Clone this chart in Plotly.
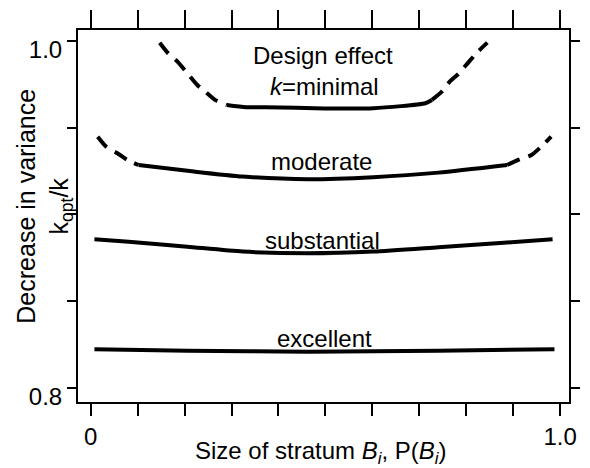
import plotly.graph_objects as go

# ---------------- data ----------------
# Design effect k = minimal (dashed outside the solid middle part)
minimal_left_x = [0.147, 0.165, 0.185, 0.206, 0.227, 0.244, 0.265, 0.290]
minimal_left_y = [0.999, 0.9929, 0.9881, 0.9814, 0.9746, 0.9708, 0.9660, 0.9631]
minimal_mid_x = [0.290, 0.331, 0.373, 0.498, 0.602, 0.713, 0.727]
minimal_mid_y = [0.9631, 0.9618, 0.9618, 0.9611, 0.9612, 0.9641, 0.9660]
minimal_right_x = [0.727, 0.748, 0.765, 0.785, 0.806, 0.825, 0.845]
minimal_right_y = [0.9660, 0.9708, 0.9765, 0.9814, 0.9881, 0.9938, 0.999]

# moderate
moderate_left_x = [0.015, 0.033, 0.057, 0.078, 0.102]
moderate_left_y = [0.9448, 0.9391, 0.9353, 0.9314, 0.9285]
moderate_mid_x = [0.102, 0.220, 0.324, 0.463, 0.602, 0.741, 0.887]
moderate_mid_y = [0.9285, 0.9247, 0.9218, 0.9203, 0.9215, 0.9241, 0.9285]
moderate_right_x = [0.887, 0.911, 0.939, 0.960, 0.981]
moderate_right_y = [0.9285, 0.9314, 0.9343, 0.9391, 0.9448]

# substantial
substantial_x = [0.008, 0.081, 0.206, 0.324, 0.463, 0.602, 0.741, 0.880, 0.984]
substantial_y = [0.8857, 0.8843, 0.8814, 0.8786, 0.8776, 0.8786, 0.8811, 0.8837, 0.8857]

# excellent
excellent_x = [0.008, 0.206, 0.463, 0.741, 0.988]
excellent_y = [0.8223, 0.8215, 0.8209, 0.8215, 0.8223]

# curve labels
label_texts = ["Design effect", "<i>k</i>=minimal", "moderate", "substantial", "excellent"]
label_x = [0.494, 0.498, 0.491, 0.494, 0.498]
label_y = [0.9918, 0.9735, 0.9307, 0.8851, 0.8284]

# ticks
x_tick_vals = [0, 0.1, 0.2, 0.3, 0.4, 0.5, 0.6, 0.7, 0.8, 0.9, 1.0]
x_tick_text = ["0", "", "", "", "", "", "", "", "", "", "1.0"]
y_tick_vals = [0.8, 0.85, 0.9, 0.95, 1.0]
y_tick_text = ["0.8", "", "", "", "1.0"]

x_title = "Size of stratum <i>B</i><sub><i>i</i></sub>, P(<i>B</i><sub><i>i</i></sub>)"
y_title = "Decrease in variance<br>k<sub>opt</sub>/k"

# ---------------- figure ----------------
FONT = "Liberation Sans, Arial, Helvetica, sans-serif"
LW = 4
DASH = "14px,9px"

fig = go.Figure()

def add_line(xs, ys, dash):
    fig.add_trace(go.Scatter(
        x=xs, y=ys, mode="lines",
        line=dict(color="black", width=LW, dash=dash, shape="spline", smoothing=0.6),
        hoverinfo="skip", showlegend=False,
    ))

add_line(minimal_left_x, minimal_left_y, DASH)
add_line(minimal_mid_x, minimal_mid_y, "solid")
add_line(minimal_right_x, minimal_right_y, DASH)
add_line(moderate_left_x, moderate_left_y, DASH)
add_line(moderate_mid_x, moderate_mid_y, "solid")
add_line(moderate_right_x, moderate_right_y, DASH)
add_line(substantial_x, substantial_y, "solid")
add_line(excellent_x, excellent_y, "solid")

for t, lx, ly in zip(label_texts, label_x, label_y):
    fig.add_annotation(x=lx, y=ly, text=t, showarrow=False,
                       xanchor="center", yanchor="middle",
                       font=dict(family=FONT, size=24, color="black"))

# axis titles
fig.add_annotation(xref="paper", yref="paper", x=0.494, y=-0.135,
                   text=x_title, showarrow=False, xanchor="center", yanchor="middle",
                   font=dict(family=FONT, size=24, color="black"))
fig.add_annotation(xref="paper", yref="paper", x=0, xshift=-33, y=0.525,
                   text=y_title, showarrow=False, textangle=-90,
                   xanchor="center", yanchor="middle",
                   font=dict(family=FONT, size=25, color="black"))

fig.update_layout(
    width=590, height=468,
    margin=dict(l=78, r=10, t=30, b=66),
    paper_bgcolor="white", plot_bgcolor="white",
    font=dict(family=FONT, size=24, color="black"),
    showlegend=False,
    xaxis=dict(
        range=[-0.027, 1.019], tickmode="array", tickvals=x_tick_vals, ticktext=x_tick_text,
        ticks="outside", ticklen=12, tickwidth=2, tickcolor="black",
        showline=True, linewidth=2, linecolor="black", mirror=False,
        showgrid=False, zeroline=False, tickfont=dict(size=24),
    ),
    xaxis2=dict(
        overlaying="x", matches="x", side="top", anchor="y",
        tickmode="array", tickvals=x_tick_vals, showticklabels=False,
        ticks="outside", ticklen=18, tickwidth=2, tickcolor="black",
        showline=True, linewidth=2, linecolor="black",
        showgrid=False, zeroline=False,
    ),
    yaxis=dict(
        range=[0.7919, 1.0063], tickmode="array", tickvals=y_tick_vals, ticktext=y_tick_text,
        ticks="outside", ticklen=9, tickwidth=2, tickcolor="black",
        showline=True, linewidth=2, linecolor="black", mirror="ticks",
        showgrid=False, zeroline=False, tickfont=dict(size=24),
        ticklabelshift=9,
    ),
)

# hidden trace so the top axis is drawn
fig.add_trace(go.Scatter(x=excellent_x, y=excellent_y, xaxis="x2", yaxis="y",
                         mode="lines", opacity=0, hoverinfo="skip", showlegend=False))

fig.write_html("out.html")
